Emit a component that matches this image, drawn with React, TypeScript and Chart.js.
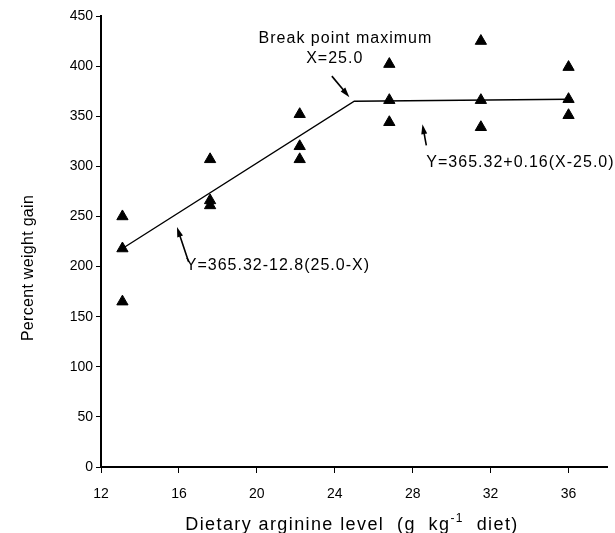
import React, { useEffect, useRef } from "react";
import { Chart, registerables } from "chart.js";

Chart.register(...registerables);

// Dietary arginine level (g/kg diet) for each triangle
const argX: number[] = [13.1, 13.1, 13.1, 17.6, 17.6, 17.6, 22.2, 22.2, 22.2, 26.8, 26.8, 26.8, 31.5, 31.5, 31.5, 36.0, 36.0, 36.0];
// Percent weight gain for each triangle
const gainY: number[] = [250, 218, 165, 307, 266, 261, 352, 320, 307, 402, 366, 344, 425, 366, 339, 399, 367, 351];

// Broken-line fit
const fitX: number[] = [13.1, 25.0, 36.0];
const fitY: number[] = [218, 365, 367];

const xTicks: number[] = [12, 16, 20, 24, 28, 32, 36];
const yTicks: number[] = [0, 50, 100, 150, 200, 250, 300, 350, 400, 450];

const yTitle = "Percent weight gain";
const xTitleMain = "Dietary arginine level  (g  kg";
const xTitleSup = "-1";
const xTitleEnd = "  diet)";

// annotation texts with anchors in data coordinates
const notes = [
  { text: "Break point maximum", x: 24.55, y: 423, align: "center" },
  { text: "X=25.0", x: 24.0, y: 403, align: "center" },
  { text: "Y=365.32+0.16(X-25.0)", x: 28.7, y: 299, align: "left" },
  { text: "Y=365.32-12.8(25.0-X)", x: 16.35, y: 196.5, align: "left" },
];
// arrows: from (x1,y1) to head at (x2,y2), data coordinates
const arrows = [
  { x1: 23.85, y1: 390, x2: 24.75, y2: 369 },
  { x1: 28.7, y1: 321, x2: 28.5, y2: 342 },
  { x1: 16.5, y1: 204.5, x2: 15.9, y2: 239.5 },
];

const FONT = "'Liberation Sans', Arial, Helvetica, sans-serif";

const textPlugin = {
  id: "textPlugin",
  afterDraw(chart: any) {
    const ctx: CanvasRenderingContext2D = chart.ctx;
    const xs = chart.scales.x;
    const ys = chart.scales.y;
    ctx.save();
    ctx.fillStyle = "#000";
    ctx.strokeStyle = "#000";
    (ctx as any).letterSpacing = "1px";
    ctx.font = `16px ${FONT}`;
    ctx.textBaseline = "alphabetic";
    for (const n of notes) {
      ctx.textAlign = n.align as CanvasTextAlign;
      ctx.fillText(n.text, xs.getPixelForValue(n.x), ys.getPixelForValue(n.y));
    }
    // arrows
    for (const a of arrows) {
      const x1 = xs.getPixelForValue(a.x1);
      const y1 = ys.getPixelForValue(a.y1);
      const x2 = xs.getPixelForValue(a.x2);
      const y2 = ys.getPixelForValue(a.y2);
      const ang = Math.atan2(y2 - y1, x2 - x1);
      const hl = 10;
      const hw = 3;
      ctx.lineWidth = 1.6;
      ctx.beginPath();
      ctx.moveTo(x1, y1);
      ctx.lineTo(x2 - Math.cos(ang) * hl * 0.6, y2 - Math.sin(ang) * hl * 0.6);
      ctx.stroke();
      ctx.beginPath();
      ctx.moveTo(x2, y2);
      ctx.lineTo(x2 - Math.cos(ang) * hl - Math.sin(ang) * hw, y2 - Math.sin(ang) * hl + Math.cos(ang) * hw);
      ctx.lineTo(x2 - Math.cos(ang) * hl + Math.sin(ang) * hw, y2 - Math.sin(ang) * hl - Math.cos(ang) * hw);
      ctx.closePath();
      ctx.fill();
    }
    // y title
    ctx.font = `16px ${FONT}`;
    (ctx as any).letterSpacing = "0.3px";
    ctx.save();
    ctx.translate(33, 268);
    ctx.rotate(-Math.PI / 2);
    ctx.textAlign = "center";
    ctx.fillText(yTitle, 0, 0);
    ctx.restore();
    // x title with superscript
    (ctx as any).letterSpacing = "1.4px";
    ctx.textAlign = "left";
    ctx.font = `18px ${FONT}`;
    const wMain = ctx.measureText(xTitleMain).width;
    const wEnd = ctx.measureText(xTitleEnd).width;
    ctx.font = `12px ${FONT}`;
    const wSup = ctx.measureText(xTitleSup).width;
    const total = wMain + wSup + wEnd;
    const cx = 352;
    const base = 530;
    let x0 = cx - total / 2;
    ctx.font = `18px ${FONT}`;
    ctx.fillText(xTitleMain, x0, base);
    x0 += wMain;
    ctx.font = `12px ${FONT}`;
    ctx.fillText(xTitleSup, x0, base - 8);
    x0 += wSup;
    ctx.font = `18px ${FONT}`;
    ctx.fillText(xTitleEnd, x0, base);
    ctx.restore();
  },
};

export default function App() {
  const ref = useRef<HTMLCanvasElement | null>(null);
  useEffect(() => {
    if (!ref.current) return;
    const points = argX.map((x, i) => ({ x, y: gainY[i] }));
    const fit = fitX.map((x, i) => ({ x, y: fitY[i] }));
    const chart = new Chart(ref.current, {
      type: "scatter",
      data: {
        datasets: [
          {
            data: fit,
            showLine: true,
            borderColor: "#000",
            borderWidth: 1.4,
            pointRadius: 0,
            fill: false,
          },
          {
            data: points,
            pointStyle: "triangle",
            pointRadius: 6.5,
            backgroundColor: "#000",
            borderColor: "#000",
            borderWidth: 1,
          },
        ],
      },
      options: {
        animation: false,
        responsive: false,
        devicePixelRatio: 1,
        layout: { padding: { top: 16, right: 0, left: 0, bottom: 0 } },
        plugins: { legend: { display: false }, tooltip: { enabled: false } },
        scales: {
          x: {
            type: "linear",
            min: 12,
            max: 38,
            afterBuildTicks: (s: any) => {
              s.ticks = xTicks.map((v) => ({ value: v }));
            },
            afterFit: (s: any) => {
              s.height = 66;
            },
            ticks: {
              color: "#000",
              font: { family: FONT, size: 14 },
              padding: 13,
              maxRotation: 0,
            },
            grid: { drawOnChartArea: false, color: "#000", tickLength: 6, lineWidth: 1 },
            border: { color: "#000", width: 2 },
          },
          y: {
            min: 0,
            max: 450,
            afterBuildTicks: (s: any) => {
              s.ticks = yTicks.map((v) => ({ value: v }));
            },
            afterFit: (s: any) => {
              s.width = 101;
            },
            ticks: {
              color: "#000",
              font: { family: FONT, size: 14 },
              padding: 3,
            },
            grid: { drawOnChartArea: false, color: "#000", tickLength: 5, lineWidth: 1 },
            border: { color: "#000", width: 2 },
          },
        },
      },
      plugins: [textPlugin],
    });
    return () => chart.destroy();
  }, []);
  return (
    <div style={{ position: "fixed", left: 0, top: 0, width: 615, height: 533, background: "#fff" }}>
      <canvas ref={ref} width={615} height={533} style={{ width: 615, height: 533, display: "block" }} />
    </div>
  );
}
